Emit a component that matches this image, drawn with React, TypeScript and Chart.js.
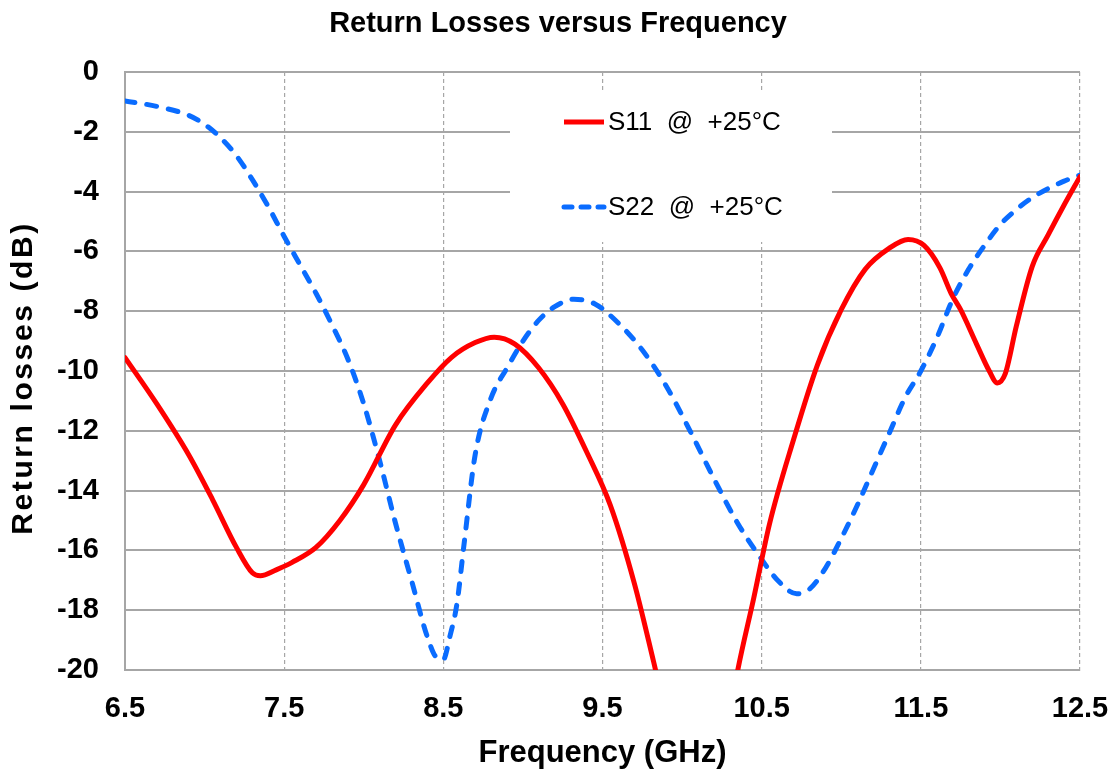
import React, { useEffect, useRef } from "react";
import { Chart, registerables } from "chart.js";

Chart.register(...registerables);

const chartTitle = "Return Losses versus Frequency";
const xAxisTitle = "Frequency (GHz)";
const yAxisTitle = "Return losses (dB)";
const seriesLabels = ["S11 @ +25°C", "S22 @ +25°C"];

const xTicks = [6.5, 7.5, 8.5, 9.5, 10.5, 11.5, 12.5];
const yTicks = [0, -2, -4, -6, -8, -10, -12, -14, -16, -18, -20];

const s11Freq = [
  6.5, 6.7, 6.9, 7.05, 7.2, 7.3, 7.35, 7.45, 7.55, 7.7, 7.85, 8.0, 8.2, 8.4, 8.55, 8.7, 8.82, 8.95, 9.1,
  9.25, 9.4, 9.55, 9.7, 9.82, 9.9, 10.05, 10.2, 10.3, 10.35, 10.45, 10.55, 10.7, 10.85, 11.0, 11.15, 11.3,
  11.42, 11.52, 11.62, 11.69, 11.75, 11.85, 11.93, 11.98, 12.03, 12.1, 12.2, 12.3, 12.4, 12.5,
];
const s11Values = [
  -9.55, -11.1, -12.8, -14.3, -15.9, -16.75, -16.85, -16.65, -16.4, -15.9, -15.0, -13.8, -11.8, -10.4, -9.55,
  -9.05, -8.87, -9.1, -9.9, -11.1, -12.7, -14.5, -17.1, -19.7, -21.5, -24.0, -24.0, -21.5, -20.0, -17.6,
  -15.1, -12.3, -9.8, -7.95, -6.6, -5.9, -5.6, -5.8, -6.55, -7.4, -7.95, -9.1, -10.0, -10.4, -10.1, -8.5,
  -6.5, -5.45, -4.45, -3.5,
];

const s22Freq = [
  6.5, 6.7, 6.9, 7.0, 7.1, 7.2, 7.3, 7.4, 7.5, 7.6, 7.7, 7.8, 7.9, 8.0, 8.1, 8.2, 8.3, 8.4, 8.46, 8.5,
  8.54, 8.585, 8.63, 8.7, 8.8, 8.9, 9.0, 9.1, 9.2, 9.32, 9.45, 9.6, 9.75, 9.9, 10.05, 10.2, 10.35, 10.5,
  10.6, 10.72, 10.8, 10.9, 11.0, 11.1, 11.2, 11.3, 11.4, 11.5, 11.6, 11.7, 11.8, 11.9, 12.0, 12.1, 12.2,
  12.3, 12.4, 12.5,
];
const s22Values = [
  -0.97, -1.15, -1.45, -1.75, -2.2, -2.8, -3.6, -4.5, -5.5, -6.45, -7.4, -8.45, -9.6, -11.1, -13.0, -15.1,
  -17.0, -18.9, -19.6, -19.65, -18.9, -17.8, -15.8, -12.8, -10.9, -9.9, -9.0, -8.3, -7.85, -7.6, -7.75,
  -8.4, -9.3, -10.5, -12.0, -13.6, -15.1, -16.3, -17.0, -17.45, -17.3, -16.6, -15.6, -14.5, -13.3, -12.1,
  -10.9, -10.0, -8.9, -7.6, -6.6, -5.8, -5.1, -4.6, -4.2, -3.9, -3.65, -3.45,
];

const RED = "#ff0000";
const BLUE = "#0a6cff";
const GRID = "#a6a6a6";
const FONT = "'Liberation Sans', Arial, sans-serif";

const overlayPlugin = {
  id: "overlay",
  beforeDatasetsDraw(chart: any) {
    const { ctx, chartArea } = chart;
    ctx.save();
    ctx.fillStyle = "#ffffff";
    ctx.fillRect(chartArea.left + 385, chartArea.top + 18, 322, 152);
    ctx.restore();
  },
  afterDatasetsDraw(chart: any) {
    const { ctx, chartArea } = chart;
    const lx = chartArea.left + 437;
    const rows = [chartArea.top + 50, chartArea.top + 135];
    ctx.save();
    rows.forEach((y, i) => {
      const ds = chart.data.datasets[i];
      ctx.beginPath();
      ctx.lineWidth = 5;
      ctx.strokeStyle = ds.borderColor;
      ctx.lineCap = i === 0 ? "butt" : "round";
      ctx.setLineDash(i === 0 ? [] : [8, 9]);
      ctx.moveTo(lx + 2, y);
      ctx.lineTo(lx + 42, y);
      ctx.stroke();
      ctx.setLineDash([]);
      ctx.fillStyle = "#000";
      ctx.font = `26px ${FONT}`;
      ctx.textBaseline = "middle";
      ctx.textAlign = "left";
      ctx.fillText(seriesLabels[i].replace(" @ ", "  @  "), lx + 46, y + 1);
    });
    ctx.restore();
  },
  afterDraw(chart: any) {
    const { ctx, chartArea } = chart;
    ctx.save();
    ctx.translate(24, (chartArea.top + chartArea.bottom) / 2 + 7);
    ctx.rotate(-Math.PI / 2);
    ctx.fillStyle = "#000";
    ctx.font = `bold 30px ${FONT}`;
    try {
      (ctx as any).letterSpacing = "2.6px";
    } catch (e) {}
    ctx.textAlign = "center";
    ctx.textBaseline = "middle";
    ctx.fillText(yAxisTitle, 0, 0);
    ctx.restore();
  },
};

export default function App() {
  const ref = useRef<HTMLCanvasElement | null>(null);

  useEffect(() => {
    document.body.style.margin = "0";
    const canvas = ref.current;
    if (!canvas) return;
    const chart = new Chart(canvas, {
      type: "line",
      data: {
        datasets: [
          {
            label: seriesLabels[0],
            data: s11Freq.map((f, i) => ({ x: f, y: s11Values[i] })),
            borderColor: RED,
            backgroundColor: RED,
            borderWidth: 5,
            pointRadius: 0,
            cubicInterpolationMode: "monotone",
            borderCapStyle: "round",
          },
          {
            label: seriesLabels[1],
            data: s22Freq.map((f, i) => ({ x: f, y: s22Values[i] })),
            borderColor: BLUE,
            backgroundColor: BLUE,
            borderWidth: 5,
            pointRadius: 0,
            cubicInterpolationMode: "monotone",
            borderDash: [10, 12],
            borderCapStyle: "round",
          },
        ],
      },
      options: {
        animation: false,
        responsive: false,
        maintainAspectRatio: false,
        layout: { padding: { left: 0, right: 0, top: 0, bottom: 0 } },
        plugins: {
          legend: { display: false },
          tooltip: { enabled: false },
          title: {
            display: true,
            text: chartTitle,
            color: "#000",
            font: { family: FONT, size: 29, weight: "bold", lineHeight: 1.2 },
            padding: { top: 7, bottom: 30.2 },
          },
        },
        scales: {
          x: {
            type: "linear",
            min: 6.5,
            max: 12.5,
            afterBuildTicks: (scale: any) => {
              scale.ticks = xTicks.map((v) => ({ value: v }));
            },
            afterFit: (scale: any) => {
              scale.height = 99;
              scale.paddingLeft = 0;
              scale.paddingRight = 36;
            },
            grid: { color: GRID, lineWidth: 1.2, drawTicks: false },
            border: { display: true, color: GRID, width: 2, dash: [4, 3] },
            ticks: {
              color: "#000",
              font: { family: FONT, size: 29, weight: "bold" },
              padding: 22,
              maxRotation: 0,
              autoSkip: false,
              callback: (v: any) => String(v),
            },
            title: {
              display: true,
              text: xAxisTitle,
              color: "#000",
              font: { family: FONT, size: 31, weight: "bold", lineHeight: 1 },
              padding: { top: 0, bottom: 0 },
            },
          },
          y: {
            type: "linear",
            min: -20,
            max: 0,
            afterBuildTicks: (scale: any) => {
              scale.ticks = yTicks.map((v) => ({ value: v }));
            },
            afterFit: (scale: any) => {
              scale.width = 125;
            },
            grid: { color: GRID, lineWidth: 2, drawTicks: false },
            border: { display: true, color: GRID, width: 2 },
            ticks: {
              color: "#000",
              font: { family: FONT, size: 29, weight: "bold" },
              padding: 26,
              autoSkip: false,
              callback: (v: any) => String(v),
            },
            title: { display: false, text: yAxisTitle },
          },
        },
      },
      plugins: [overlayPlugin],
    } as any);
    return () => chart.destroy();
  }, []);

  return (
    <div style={{ width: 1116, height: 769, position: "relative" }}>
      <canvas ref={ref} width={1116} height={769} style={{ display: "block" }} aria-label={yAxisTitle} />
    </div>
  );
}
